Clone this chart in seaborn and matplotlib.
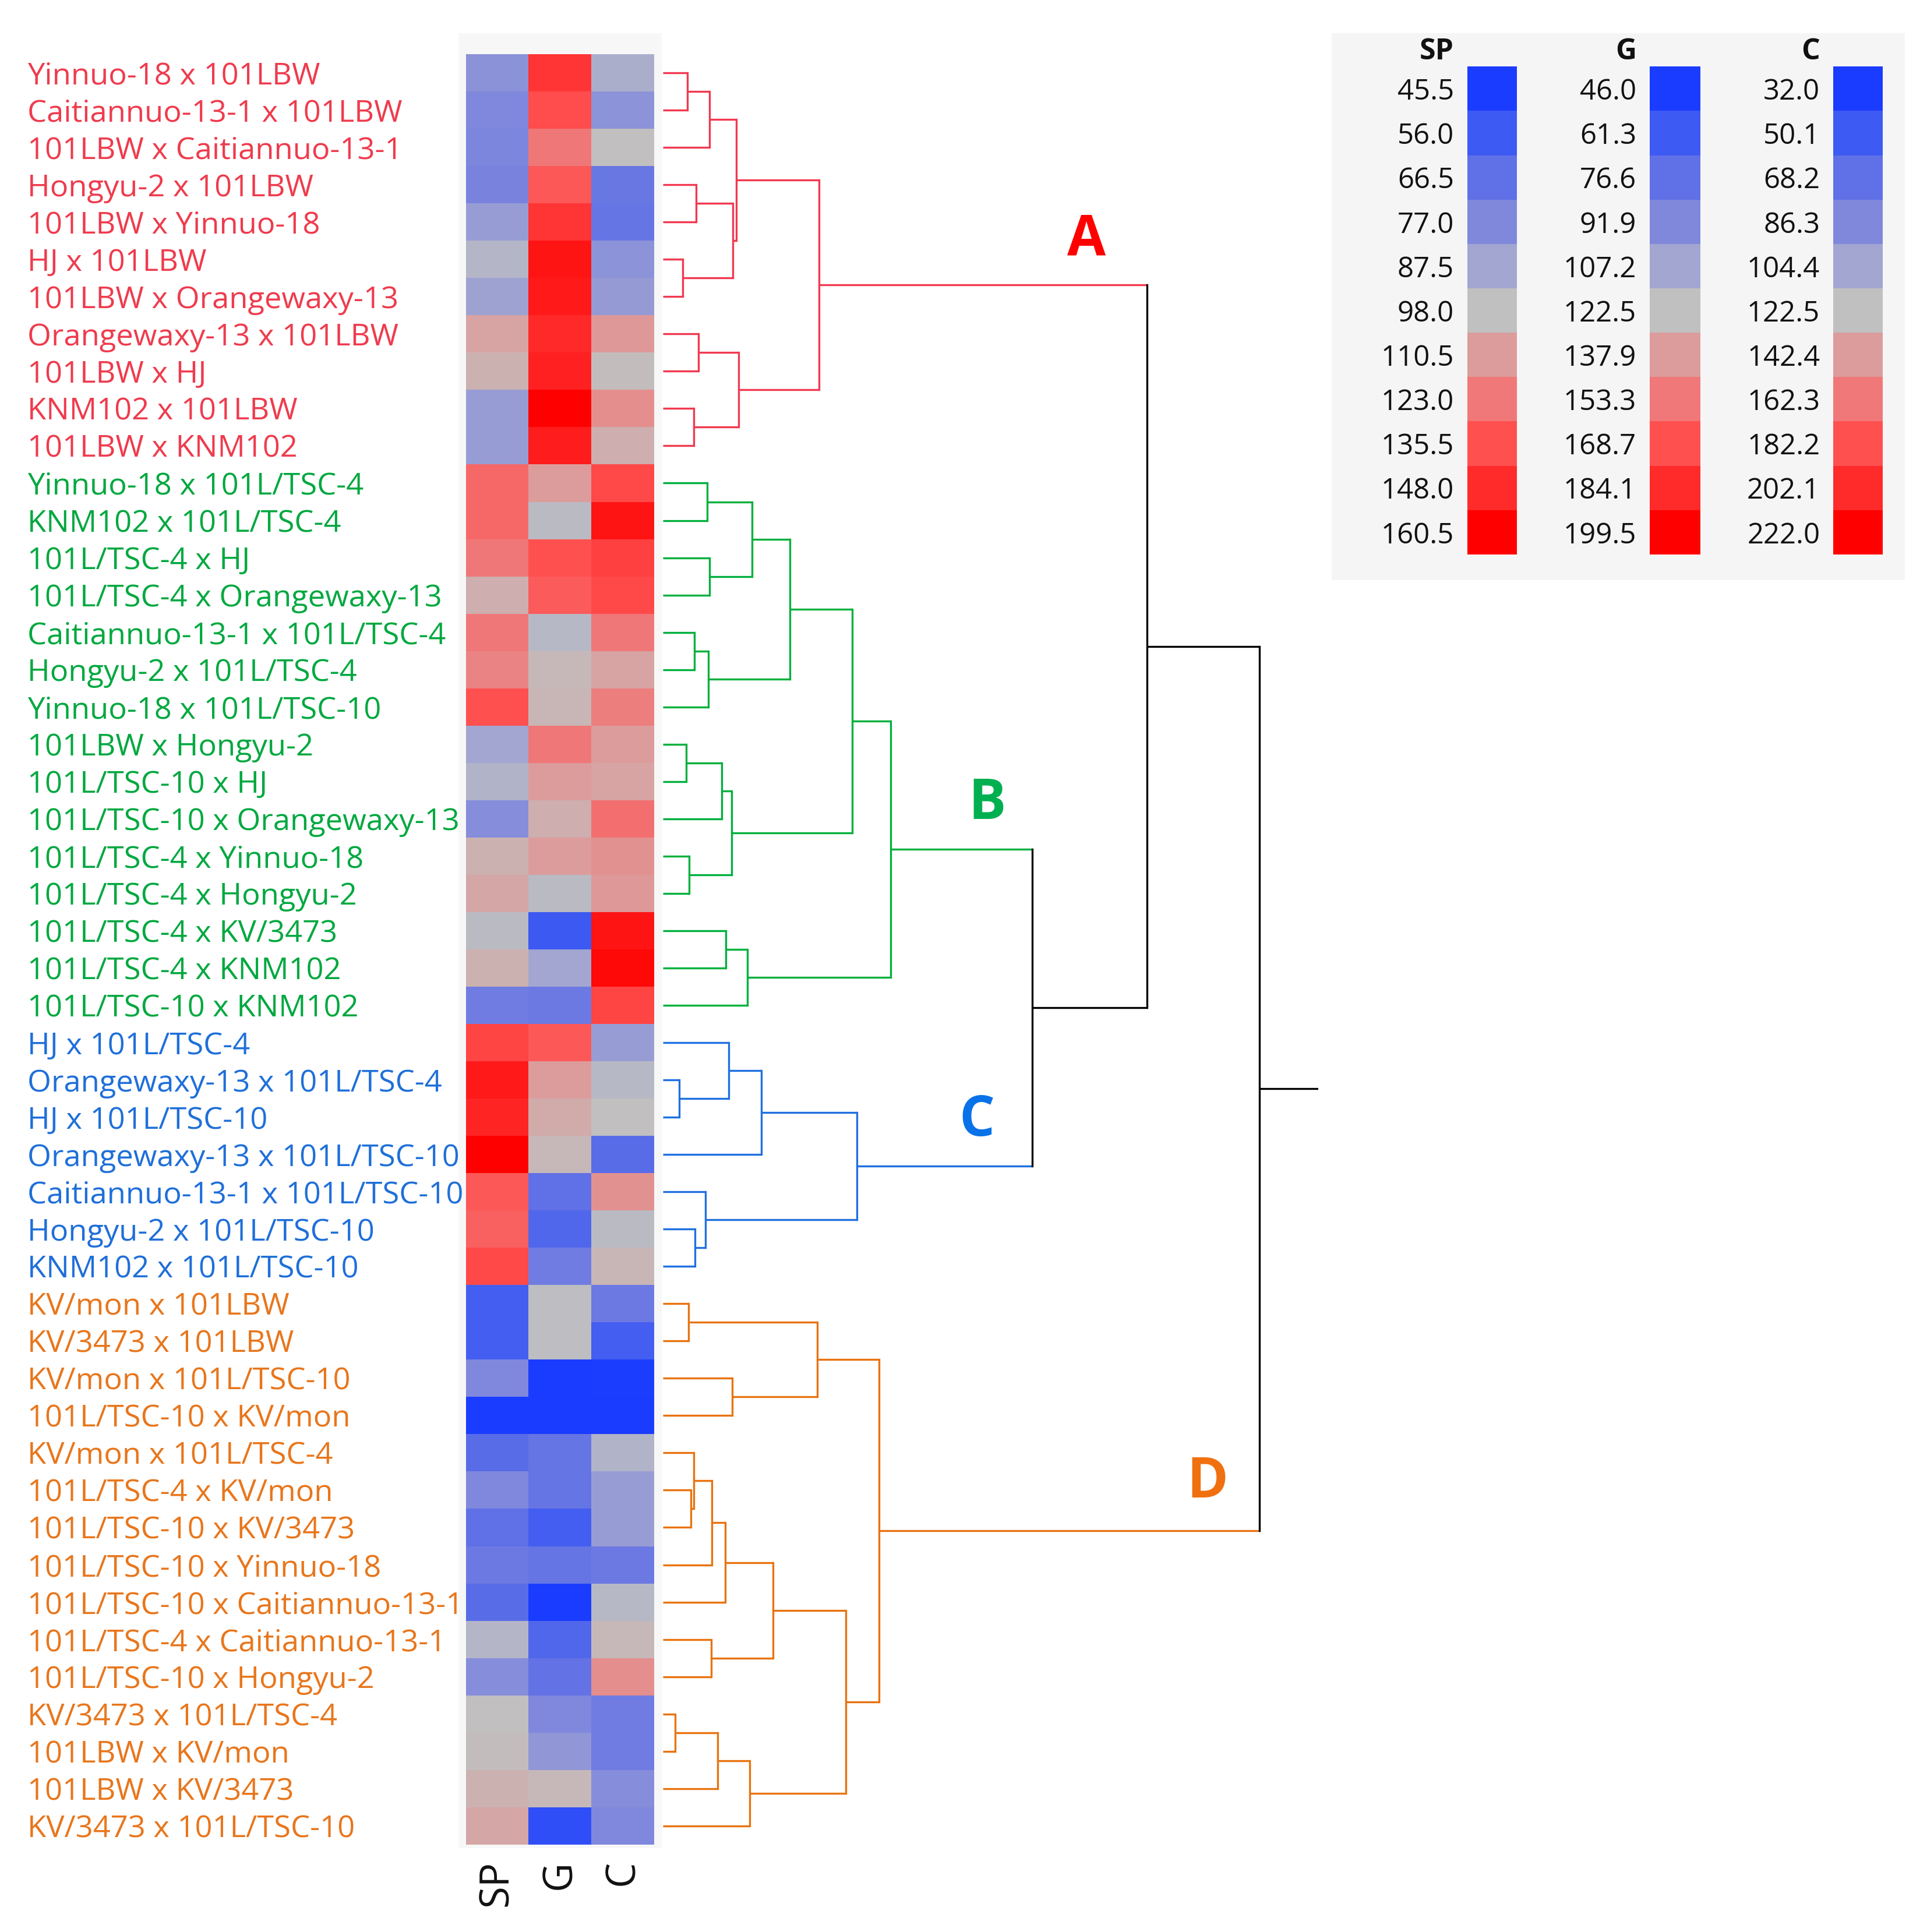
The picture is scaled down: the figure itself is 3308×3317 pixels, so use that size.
"""Clustered heatmap of SP, G and C for 48 maize crosses with a hand-ordered dendrogram."""

import matplotlib

matplotlib.use("Agg")

import matplotlib.pyplot as plt
import numpy as np
import pandas as pd
import seaborn as sns
from matplotlib.colors import LinearSegmentedColormap, ListedColormap, TwoSlopeNorm
from matplotlib.patches import Rectangle


CROSSES = [
    "Yinnuo-18 x 101LBW", "Caitiannuo-13-1 x 101LBW", "101LBW x Caitiannuo-13-1",
    "Hongyu-2 x 101LBW", "101LBW x Yinnuo-18", "HJ x 101LBW", "101LBW x Orangewaxy-13",
    "Orangewaxy-13 x 101LBW", "101LBW x HJ", "KNM102 x 101LBW", "101LBW x KNM102",
    "Yinnuo-18 x 101L/TSC-4", "KNM102 x 101L/TSC-4", "101L/TSC-4 x HJ",
    "101L/TSC-4 x Orangewaxy-13", "Caitiannuo-13-1 x 101L/TSC-4", "Hongyu-2 x 101L/TSC-4",
    "Yinnuo-18 x 101L/TSC-10", "101LBW x Hongyu-2", "101L/TSC-10 x HJ",
    "101L/TSC-10 x Orangewaxy-13", "101L/TSC-4 x Yinnuo-18", "101L/TSC-4 x Hongyu-2",
    "101L/TSC-4 x KV/3473", "101L/TSC-4 x KNM102", "101L/TSC-10 x KNM102",
    "HJ x 101L/TSC-4", "Orangewaxy-13 x 101L/TSC-4", "HJ x 101L/TSC-10",
    "Orangewaxy-13 x 101L/TSC-10", "Caitiannuo-13-1 x 101L/TSC-10", "Hongyu-2 x 101L/TSC-10",
    "KNM102 x 101L/TSC-10", "KV/mon x 101LBW", "KV/3473 x 101LBW", "KV/mon x 101L/TSC-10",
    "101L/TSC-10 x KV/mon", "KV/mon x 101L/TSC-4", "101L/TSC-4 x KV/mon",
    "101L/TSC-10 x KV/3473", "101L/TSC-10 x Yinnuo-18", "101L/TSC-10 x Caitiannuo-13-1",
    "101L/TSC-4 x Caitiannuo-13-1", "101L/TSC-10 x Hongyu-2", "KV/3473 x 101L/TSC-4",
    "101LBW x KV/mon", "101LBW x KV/3473", "KV/3473 x 101L/TSC-10",
]

GROUPS = ["A"] * 11 + ["B"] * 15 + ["C"] * 7 + ["D"] * 15

SP = [
    80.7, 77.0, 76.0, 74.9, 84.4, 93.8, 86.5, 108.0, 103.0, 84.4, 84.4,
    128.0, 128.0, 123.0, 104.3, 123.0, 119.3, 135.5, 87.5, 92.8, 79.1, 103.0, 106.8,
    95.9, 103.0, 71.8,
    139.3, 153.0, 149.3, 160.5, 133.0, 130.5, 138.0,
    58.1, 58.1, 77.0, 45.5, 64.4, 77.0, 66.5, 70.7, 64.4, 93.8, 79.1,
    98.0, 99.3, 103.0, 106.8,
]
G = [
    179.5, 170.2, 153.3, 165.6, 179.5, 191.8, 190.3, 184.1, 187.2, 199.5, 188.7,
    137.9, 119.4, 168.7, 164.1, 117.9, 125.6, 127.1, 153.3, 137.9, 130.2, 137.9, 119.4,
    61.3, 107.2, 82.7,
    165.6, 137.9, 131.7, 125.6, 76.6, 70.5, 84.3,
    121.0, 121.0, 46.0, 46.0, 79.7, 79.7, 64.4, 79.7, 46.0, 70.5, 78.1,
    91.9, 99.6, 125.6, 55.2,
]
C = [
    109.8, 93.5, 122.5, 73.6, 71.8, 93.5, 97.2, 144.4, 124.5, 150.4, 132.5,
    186.2, 212.1, 190.2, 186.2, 162.3, 138.4, 158.3, 142.4, 138.4, 166.3, 148.4, 144.4,
    212.1, 218.0, 188.2,
    99.0, 117.1, 122.5, 64.6, 148.4, 118.9, 128.5,
    75.4, 53.7, 32.9, 32.0, 113.5, 99.0, 99.0, 75.4, 117.1, 126.5, 150.4,
    77.3, 77.3, 89.9, 86.3,
]

TRAITS = ["SP", "G", "C"]
SP_TICKS = [45.5, 56.0, 66.5, 77.0, 87.5, 98.0, 110.5, 123.0, 135.5, 148.0, 160.5]
G_TICKS = [46.0, 61.3, 76.6, 91.9, 107.2, 122.5, 137.9, 153.3, 168.7, 184.1, 199.5]
C_TICKS = [32.0, 50.1, 68.2, 86.3, 104.4, 122.5, 142.4, 162.3, 182.2, 202.1, 222.0]

SCALE_COLORS = [
    "#1a3cff", "#3d5af2", "#6070e6", "#8088dc", "#a2a6d0", "#c0c0c0",
    "#dc9c9c", "#f07878", "#ff5050", "#ff2a2a", "#ff0000",
]

# merges: (node, left child, right child, height, cluster); ints are leaf rows
MERGES = [
    ("a1", 0, 1, 19.7, "A"), ("a2", "a1", 2, 37.8, "A"), ("a3", 3, 4, 26.9, "A"),
    ("a4", 5, 6, 16.0, "A"), ("a5", "a3", "a4", 57.0, "A"), ("a6", "a2", "a5", 59.8, "A"),
    ("a7", 7, 8, 29.0, "A"), ("a8", 9, 10, 25.0, "A"), ("a9", "a7", "a8", 61.3, "A"),
    ("A", "a6", "a9", 126.8, "A"),
    ("b1", 11, 12, 36.0, "B"), ("b2", 13, 14, 37.7, "B"), ("b3", "b1", "b2", 72.5, "B"),
    ("b4", 15, 16, 25.5, "B"), ("b5", "b4", 17, 36.7, "B"), ("b6", "b3", "b5", 102.9, "B"),
    ("b7", 18, 19, 19.0, "B"), ("b8", "b7", 20, 47.9, "B"), ("b9", 21, 22, 21.5, "B"),
    ("b10", "b8", "b9", 55.8, "B"), ("b11", "b6", "b10", 153.9, "B"),
    ("b12", 23, 24, 51.0, "B"), ("b13", "b12", 25, 68.8, "B"),
    ("B", "b11", "b13", 185.0, "B"),
    ("c1", 27, 28, 13.5, "C"), ("c2", 26, "c1", 53.5, "C"), ("c3", "c2", 29, 80.1, "C"),
    ("c4", 31, 32, 26.0, "C"), ("c5", 30, "c4", 34.6, "C"), ("C", "c3", "c5", 157.7, "C"),
    ("d1", 33, 34, 21.0, "D"), ("d2", 35, 36, 56.3, "D"), ("d3", "d1", "d2", 125.4, "D"),
    ("d4", 38, 39, 22.9, "D"), ("d5", 37, "d4", 25.3, "D"), ("d6", "d5", 40, 39.7, "D"),
    ("d7", "d6", 41, 50.6, "D"), ("d8", 42, 43, 39.4, "D"), ("d9", "d7", "d8", 89.5, "D"),
    ("d10", 44, 45, 9.9, "D"), ("d11", "d10", 46, 44.3, "D"), ("d12", "d11", 47, 70.5, "D"),
    ("d13", "d9", "d12", 148.3, "D"), ("D", "d3", "d13", 175.4, "D"),
    ("BC", "B", "C", 300.0, None), ("ABC", "A", "BC", 393.0, None),
    ("root", "ABC", "D", 484.0, None),
]
ROOT_STUB = 532.0

LABEL_COLORS = {"A": "#ef3b4d", "B": "#00a83f", "C": "#1f6fd9", "D": "#e8761c"}
LINE_COLORS = {"A": "#f2384f", "B": "#00b03c", "C": "#1f70e0", "D": "#e8730f", None: "#000000"}
LETTER_COLORS = {"A": "#ff0000", "B": "#00b050", "C": "#0a72e8", "D": "#f07010"}
LETTER_POS = {"A": (344, 5.0), "B": (263, 20.1), "C": (255, 28.6), "D": (442, 38.3)}

# reference frame used for placing panels
REF_W, REF_H = 1564.0, 1568.0


def box(x0, y0, x1, y1):
    """Convert reference pixel box to figure fraction [left, bottom, width, height]."""
    return [x0 / REF_W, 1 - y1 / REF_H, (x1 - x0) / REF_W, (y1 - y0) / REF_H]


def panel(fig, x0, y0, x1, y1, color):
    fig.patches.append(Rectangle((x0 / REF_W, 1 - y1 / REF_H), (x1 - x0) / REF_W,
                                 (y1 - y0) / REF_H, transform=fig.transFigure,
                                 facecolor=color, edgecolor="none", zorder=-5))


def normalized_table() -> pd.DataFrame:
    df = pd.DataFrame({"SP": SP, "G": G, "C": C}, index=CROSSES)
    out = pd.DataFrame(index=df.index)
    for trait, ticks in zip(TRAITS, [SP_TICKS, G_TICKS, C_TICKS]):
        norm = TwoSlopeNorm(vmin=ticks[0], vcenter=ticks[5], vmax=ticks[-1])
        out[trait] = np.asarray(norm(df[trait].to_numpy()))
    return out


def draw_heatmap(fig):
    ax = fig.add_axes(box(378, 44, 531, 1497))
    cmap = LinearSegmentedColormap.from_list("bgr", SCALE_COLORS)
    sns.heatmap(
        normalized_table(),
        cmap=cmap,
        vmin=0,
        vmax=1,
        cbar=False,
        xticklabels=TRAITS,
        yticklabels=CROSSES,
        ax=ax,
    )
    ax.tick_params(axis="y", length=0, pad=180.5, labelsize=12.6)
    ax.tick_params(axis="x", length=0, pad=6.5, labelsize=16.5)
    for lbl, grp in zip(ax.get_yticklabels(), GROUPS):
        lbl.set_color(LABEL_COLORS[grp])
        lbl.set_horizontalalignment("left")
        lbl.set_verticalalignment("center_baseline")
        lbl.set_rotation(0)
    plt.setp(ax.get_xticklabels(), rotation=90, color="#111111")
    ax.set_xlabel("")
    ax.set_ylabel("")


def draw_dendrogram(fig):
    ax = fig.add_axes(box(538, 44, 1070, 1497))
    ax.set_facecolor("none")
    pos = {i: (0.0, i + 0.5) for i in range(len(CROSSES))}
    color = {i: GROUPS[i] for i in range(len(CROSSES))}
    for node, left, right, height, grp in MERGES:
        for child in (left, right):
            h, y = pos[child]
            ax.plot([h, height], [y, y], color=LINE_COLORS[color[child]], lw=0.8,
                    solid_capstyle="butt")
        y0, y1 = pos[left][1], pos[right][1]
        ax.plot([height, height], [y0, y1], color=LINE_COLORS[grp], lw=0.8,
                solid_capstyle="projecting")
        pos[node] = (height, (y0 + y1) / 2)
        color[node] = grp
    h, y = pos["root"]
    ax.plot([h, ROOT_STUB], [y, y], color="#000000", lw=0.8)

    for grp, (x, y) in LETTER_POS.items():
        ax.text(x, y, grp, color=LETTER_COLORS[grp], fontsize=23, fontweight="bold",
                ha="center", va="center")
    ax.set_xlim(0, ROOT_STUB)
    ax.set_ylim(len(CROSSES), 0)
    ax.axis("off")


def draw_legend(fig):
    panel(fig, 1081, 27, 1546, 471, "#f5f5f5")
    bars = [(1191, 1231, 1180), (1339, 1380, 1328), (1488, 1528, 1477)]
    for trait, ticks, (x0, x1, xr) in zip(TRAITS, [SP_TICKS, G_TICKS, C_TICKS], bars):
        ax = fig.add_axes(box(x0, 54, x1, 450))
        sns.heatmap(
            np.arange(len(ticks)).reshape(-1, 1),
            cmap=ListedColormap(SCALE_COLORS),
            vmin=-0.5,
            vmax=len(ticks) - 0.5,
            cbar=False,
            xticklabels=False,
            yticklabels=[f"{t:.1f}" for t in ticks],
            ax=ax,
        )
        ax.tick_params(axis="y", length=0, pad=5.5, labelsize=11.8, labelcolor="#111111")
        plt.setp(ax.get_yticklabels(), rotation=0, va="center_baseline")
        fig.text(xr / REF_W, 1 - 39 / REF_H, trait, ha="right", va="center_baseline",
                 fontsize=12, fontweight="bold", color="#111111")


def main() -> None:
    sns.set_theme(style="white")
    plt.rcParams["font.family"] = ["Open Sans", "DejaVu Sans"]

    fig = plt.figure(figsize=(3308 / 300, 3317 / 300), dpi=300)
    fig.patch.set_facecolor("white")
    panel(fig, 372, 27, 537, 1500, "#f7f7f7")
    draw_heatmap(fig)
    draw_dendrogram(fig)
    draw_legend(fig)
    fig.savefig("out.png", dpi=300, facecolor="white")
    plt.close(fig)


if __name__ == "__main__":
    main()
